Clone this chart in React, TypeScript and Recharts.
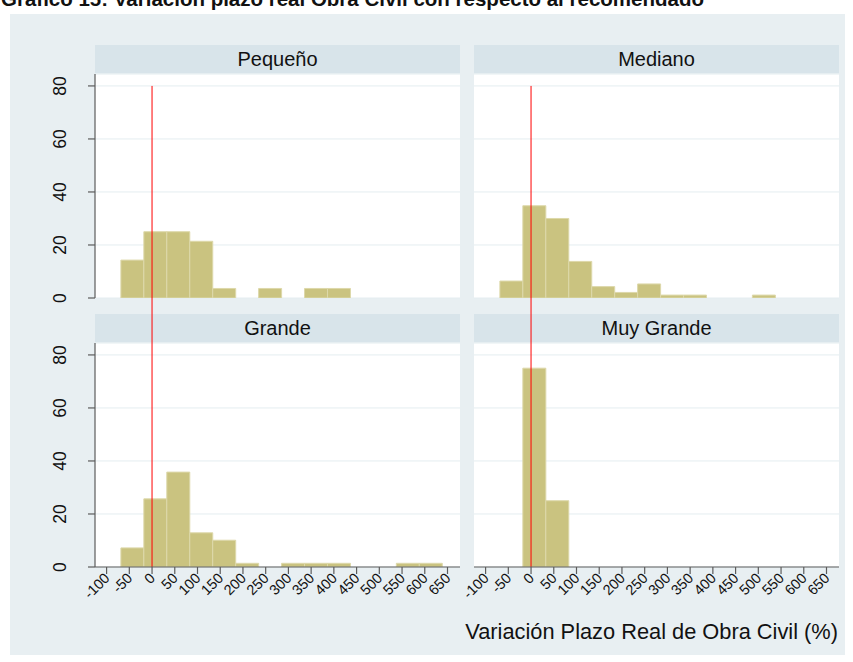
import React from 'react';
import { BarChart, Bar, XAxis, YAxis, CartesianGrid, ReferenceLine } from 'recharts';

// ---- data (percent of projects per bin) ----
const BIN_CENTERS = [-43.3, 7.2, 57.7, 108.2, 158.7, 209.2, 259.7, 310.2, 360.7, 411.2, 461.7, 512.2, 562.7, 613.2];
const PEQUENO = [14.3, 25.0, 25.0, 21.4, 3.6, 0, 3.6, 0, 3.6, 3.6, 0, 0, 0, 0];
const MEDIANO = [6.4, 34.8, 30.0, 13.8, 4.3, 2.1, 5.3, 1.1, 1.1, 0, 0, 1.1, 0, 0];
const GRANDE = [7.2, 25.7, 35.8, 12.9, 10.1, 1.4, 0, 1.4, 1.4, 1.4, 0, 0, 1.4, 1.4];
const MUY_GRANDE = [0, 75.0, 25.0, 0, 0, 0, 0, 0, 0, 0, 0, 0, 0, 0];
const PANEL_TITLES = ['Pequeño', 'Mediano', 'Grande', 'Muy Grande'];
const X_TICKS = [-100, -50, 0, 50, 100, 150, 200, 250, 300, 350, 400, 450, 500, 550, 600, 650];
const Y_TICKS = [0, 20, 40, 60, 80];
const X_DOMAIN: [number, number] = [-125.5, 677.5];
const Y_DOMAIN: [number, number] = [0, 84.5];
const TITLE = 'Gráfico 15: Variación plazo real Obra Civil con respecto al recomendado';
const X_TITLE = 'Variación Plazo Real de Obra Civil (%)';

const FONT = '"Liberation Sans", Arial, Helvetica, sans-serif';
const BG = '#e8eff2';
const STRIP = '#d8e4ea';
const BAR_FILL = '#cac380';
const BAR_STROKE = '#ddd8aa';
const AXIS = '#5c5c5c';
const GRID = '#e4edf0';

const toRows = (vals: number[]) => BIN_CENTERS.map((c, i) => ({ x: c, v: vals[i] }));

const YTick = (props: any) => {
  const { x, y, payload } = props;
  const bx = x - 20;
  return (
    <text x={bx} y={y} transform={`rotate(-90 ${bx} ${y})`} textAnchor="middle" style={{ fontSize: '17.5px' }} fill="#111" fontFamily={FONT}>
      {payload.value}
    </text>
  );
};

const XTick = (props: any) => {
  const { x, y, payload } = props;
  const bx = x + 4;
  const by = y + 3;
  return (
    <text x={bx} y={by} transform={`rotate(-45 ${bx} ${by})`} textAnchor="end" style={{ fontSize: '14.5px' }} fill="#111" fontFamily={FONT}>
      {payload.value}
    </text>
  );
};

type PanelProps = {
  values: number[];
  left: number;
  top: number;
  showY: boolean;
  showX: boolean;
  lineTop: number;
};

function Panel({ values, left, top, showY, showX, lineTop }: PanelProps) {
  const width = showY ? 420 : 365;
  const height = showX ? 274 : 224;
  return (
    <div style={{ position: 'absolute', left, top, width, height }}>
      <BarChart
        width={width}
        height={height}
        data={toRows(values)}
        margin={{ top: 0, right: 0, bottom: 0, left: 0 }}
        barCategoryGap={0}
        barGap={0}
      >
        <CartesianGrid vertical={false} stroke={GRID} fill="#ffffff" />
        <XAxis
          type="number"
          dataKey="x"
          domain={X_DOMAIN}
          ticks={X_TICKS}
          allowDataOverflow
          hide={!showX}
          height={50}
          interval={0}
          tick={(p: any) => <XTick {...p} />}
          tickSize={7}
          axisLine={{ stroke: AXIS, strokeWidth: 1.2 }}
          tickLine={{ stroke: AXIS, strokeWidth: 1.2 }}
        />
        <YAxis
          type="number"
          domain={Y_DOMAIN}
          ticks={Y_TICKS}
          allowDataOverflow
          hide={!showY}
          width={55}
          interval={0}
          tick={(p: any) => <YTick {...p} />}
          tickSize={7}
          axisLine={{ stroke: AXIS, strokeWidth: 1.2 }}
          tickLine={{ stroke: AXIS, strokeWidth: 1.2 }}
        />
        <Bar dataKey="v" fill={BAR_FILL} stroke={BAR_STROKE} strokeWidth={1} isAnimationActive={false} />
        <ReferenceLine
          segment={[{ x: 0, y: 0 }, { x: 0, y: lineTop }]}
          stroke="#ff0000"
          strokeWidth={1}
          ifOverflow="visible"
        />
      </BarChart>
    </div>
  );
}

const Strip = ({ left, top, text }: { left: number; top: number; text: string }) => (
  <div
    style={{
      position: 'absolute',
      left,
      top,
      width: 365,
      height: 28,
      background: STRIP,
      fontFamily: FONT,
      fontSize: 20,
      lineHeight: '28px',
      textAlign: 'center',
      color: '#111',
    }}
  >
    {text}
  </div>
);

export default function App() {
  return (
    <div style={{ position: 'absolute', left: 0, top: 0, width: 853, height: 662, background: '#ffffff', overflow: 'hidden' }}>
      <style>{'.recharts-surface{overflow:visible}'}</style>
      <div style={{ position: 'absolute', left: 10, top: 14, width: 835, height: 641, background: BG }} />
      <Strip left={95} top={45} text={PANEL_TITLES[0]} />
      <Strip left={474} top={45} text={PANEL_TITLES[1]} />
      <Strip left={95} top={314} text={PANEL_TITLES[2]} />
      <Strip left={474} top={314} text={PANEL_TITLES[3]} />
      <Panel values={PEQUENO} left={40} top={74} showY showX={false} lineTop={80} />
      <Panel values={MEDIANO} left={474} top={74} showY={false} showX={false} lineTop={80} />
      <Panel values={GRANDE} left={40} top={343} showY showX lineTop={101.5} />
      <Panel values={MUY_GRANDE} left={474} top={343} showY={false} showX lineTop={101.5} />
      <svg width={853} height={662} style={{ position: 'absolute', left: 0, top: 0, pointerEvents: 'none' }}>
        <text x={1} y={6} fontSize={20.5} fontWeight="bold" fontFamily={FONT} fill="#111">
          {TITLE}
        </text>
        <text x={838} y={639} fontSize={21.8} textAnchor="end" fontFamily={FONT} fill="#111">
          {X_TITLE}
        </text>
      </svg>
    </div>
  );
}
